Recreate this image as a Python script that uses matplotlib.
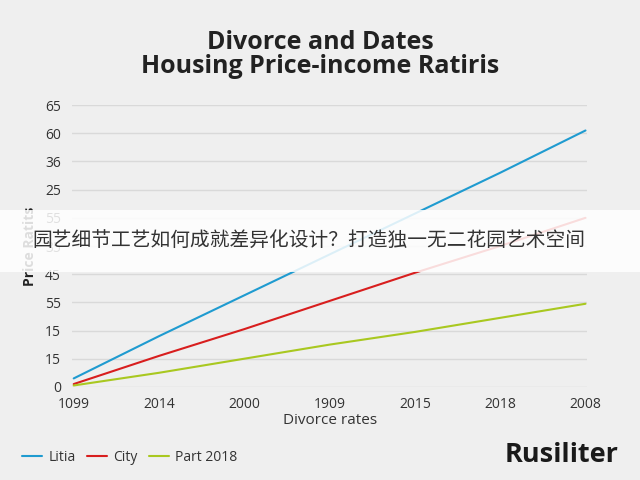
import matplotlib
matplotlib.use("Agg")
import matplotlib.pyplot as plt
from matplotlib.patches import Rectangle

plt.rcParams["font.family"] = ["Open Sans", "Noto Sans CJK SC", "DejaVu Sans"]

# data
x_labels = ["1099", "2014", "2000", "1909", "2015", "2018", "2008"]
y_labels = ["0", "15", "15", "55", "45", "35", "55", "25", "36", "60", "65"]
litia = [0.3, 1.8, 3.25, 4.7, 6.15, 7.6, 9.1]
city = [0.1, 1.1, 2.05, 3.05, 4.05, 5.0, 6.0]
part_2018 = [0.05, 0.5, 1.0, 1.5, 1.95, 2.45, 2.95]
series = [("Litia", litia, "#1f9bd0"), ("City", city, "#d81e1e"), ("Part 2018", part_2018, "#a9c820")]

bg = "#efefef"
fig = plt.figure(figsize=(6.4, 4.8), dpi=100, facecolor=bg)
ax = fig.add_axes([0.1125, 0.194, 0.805, 0.587], facecolor=bg)

xs = range(len(x_labels))
for name, vals, col in series:
    ax.plot(xs, vals, color=col, lw=1.5, label=name, solid_capstyle="round")

ax.set_xlim(-0.02, 6.02)
ax.set_ylim(0, 10)
ax.set_yticks(range(len(y_labels)))
ax.set_yticklabels(y_labels)
ax.set_xticks(list(xs))
ax.set_xticklabels(x_labels)
ax.tick_params(length=0, labelsize=10, colors="#333333", pad=8)
ax.tick_params(axis="x", pad=7)
ax.grid(axis="y", color="#d9d9d9", lw=1)
ax.set_axisbelow(True)
for s in ax.spines.values():
    s.set_visible(False)

ax.set_xlabel("Divorce rates", fontsize=11, color="#333333", labelpad=1)
ax.set_ylabel("Price Ratits", fontsize=10, fontweight="bold", color="#222222", labelpad=6)

fig.text(0.5, 0.912, "Divorce and Dates", ha="center", va="center",
         fontsize=18, fontweight="bold", color="#222222")
fig.text(0.5, 0.862, "Housing Price-income Ratiris", ha="center", va="center",
         fontsize=18, fontweight="bold", color="#222222")

fig.legend(loc="center left", bbox_to_anchor=(0.015, 0.047), ncol=3, frameon=False,
           fontsize=10, handlelength=1.45, handletextpad=0.45, columnspacing=0.8,
           labelcolor="#333333")

fig.text(0.967, 0.052, "Rusiliter", ha="right", va="center",
         fontsize=19.5, fontweight="bold", color="#1a1a1a")

# translucent banner across the middle
fig.patches.append(Rectangle((0, 0.433), 1, 0.129, transform=fig.transFigure,
                             facecolor="white", alpha=0.85, edgecolor="none", zorder=10))
fig.text(0.051, 0.498, "园艺细节工艺如何成就差异化设计？打造独一无二花园艺术空间",
         ha="left", va="center", fontsize=14.2, color="#333333",
         family=["Noto Sans CJK SC", "DejaVu Sans"], zorder=11)

fig.savefig("out.png", dpi=100, facecolor=bg)
